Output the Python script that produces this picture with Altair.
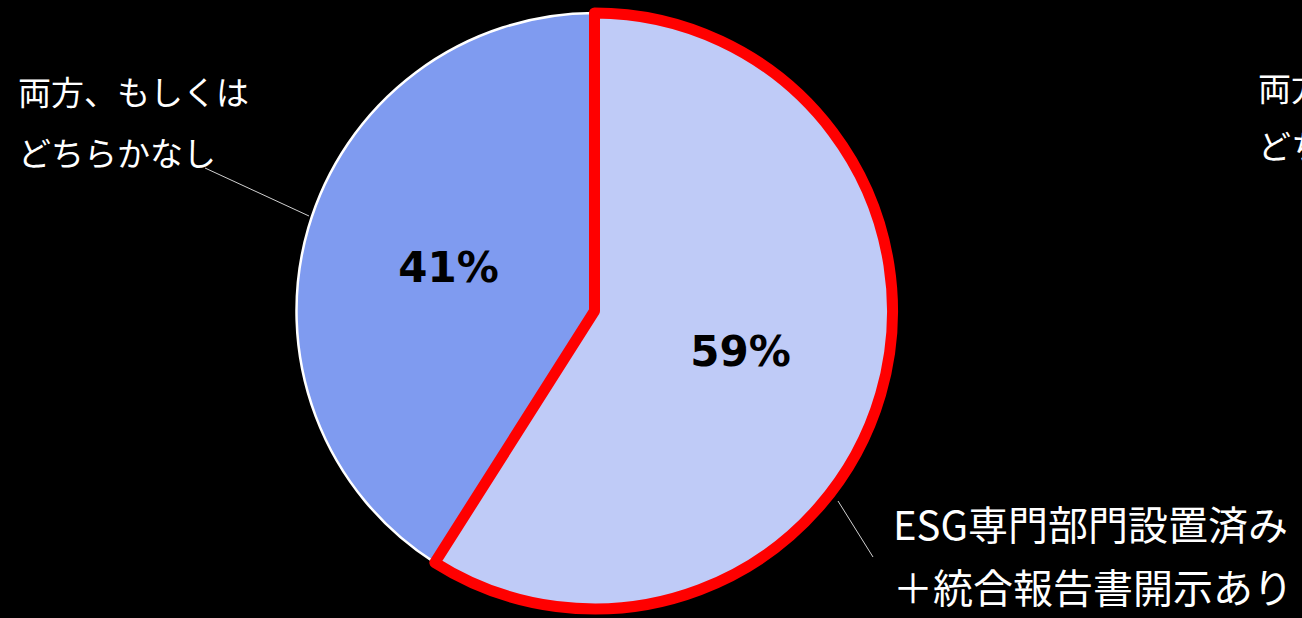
import altair as alt
import pandas as pd

# ---- data ----
categories = ["ESG専門部門設置済み\n＋統合報告書開示あり", "両方、もしくは\nどちらかなし"]
values = [59, 41]
pct_labels = ["59%", "41%"]
fill_colors = ["#BFCBF7", "#7F9BF0"]
slice_order = [0, 1]
highlight = [1, 0]

df = pd.DataFrame({
    "category": categories,
    "value": values,
    "pct": pct_labels,
    "fill": fill_colors,
    "order": slice_order,
    "red": highlight,
})

CX, CY, R = 594.5, 311, 298
JP = "Noto Sans CJK JP"

base = alt.Chart(df).encode(
    theta=alt.Theta("value:Q", stack=True),
    order=alt.Order("order:Q"),
    x=alt.value(CX),
    y=alt.value(CY),
)

slices = base.mark_arc(radius=R, stroke="white", strokeWidth=2.5).encode(
    fill=alt.Fill("fill:N", scale=None)
)

outline = base.mark_arc(
    radius=R, fillOpacity=0, stroke="#FF0000", strokeWidth=11, strokeJoin="round"
).encode(strokeOpacity=alt.StrokeOpacity("red:Q", scale=None))

pct = base.mark_text(
    radius=152, font="DejaVu Sans", fontWeight="bold", fontSize=42, color="black"
).encode(text="pct:N")

label_none = alt.Chart(df).transform_filter("datum.order == 1")
label_esg = alt.Chart(df).transform_filter("datum.order == 0")

left_label = label_none.mark_text(
    font=JP, fontSize=33, color="white", align="left", baseline="middle",
    lineBreak="\n", lineHeight=61,
).encode(text="category:N", x=alt.value(18), y=alt.value(95))

right_top_label = label_none.mark_text(
    font=JP, fontSize=33, color="white", align="left", baseline="middle",
    lineBreak="\n", lineHeight=58,
).encode(text="category:N", x=alt.value(1258), y=alt.value(91))

bottom_label = label_esg.mark_text(
    font=JP, fontSize=40, color="white", align="left", baseline="middle",
    lineBreak="\n", lineHeight=63,
).encode(text="category:N", x=alt.value(893), y=alt.value(528))

leader = pd.DataFrame({"k": [0]})
line_left = alt.Chart(leader).mark_rule(color="#D0D0D0", strokeWidth=1).encode(
    x=alt.value(205), y=alt.value(168), x2=alt.value(309), y2=alt.value(216)
)
line_right = alt.Chart(leader).mark_rule(color="#D0D0D0", strokeWidth=1).encode(
    x=alt.value(838), y=alt.value(501), x2=alt.value(873), y2=alt.value(557)
)

chart = alt.layer(
    slices, outline, pct, left_label, right_top_label, bottom_label, line_left, line_right
).properties(
    width=1302,
    height=618,
    background="black",
    padding=0,
    autosize=alt.AutoSizeParams(type="none"),
).configure_view(stroke=None)

chart.save("out.html", embed_options={"renderer": "svg", "actions": False})
